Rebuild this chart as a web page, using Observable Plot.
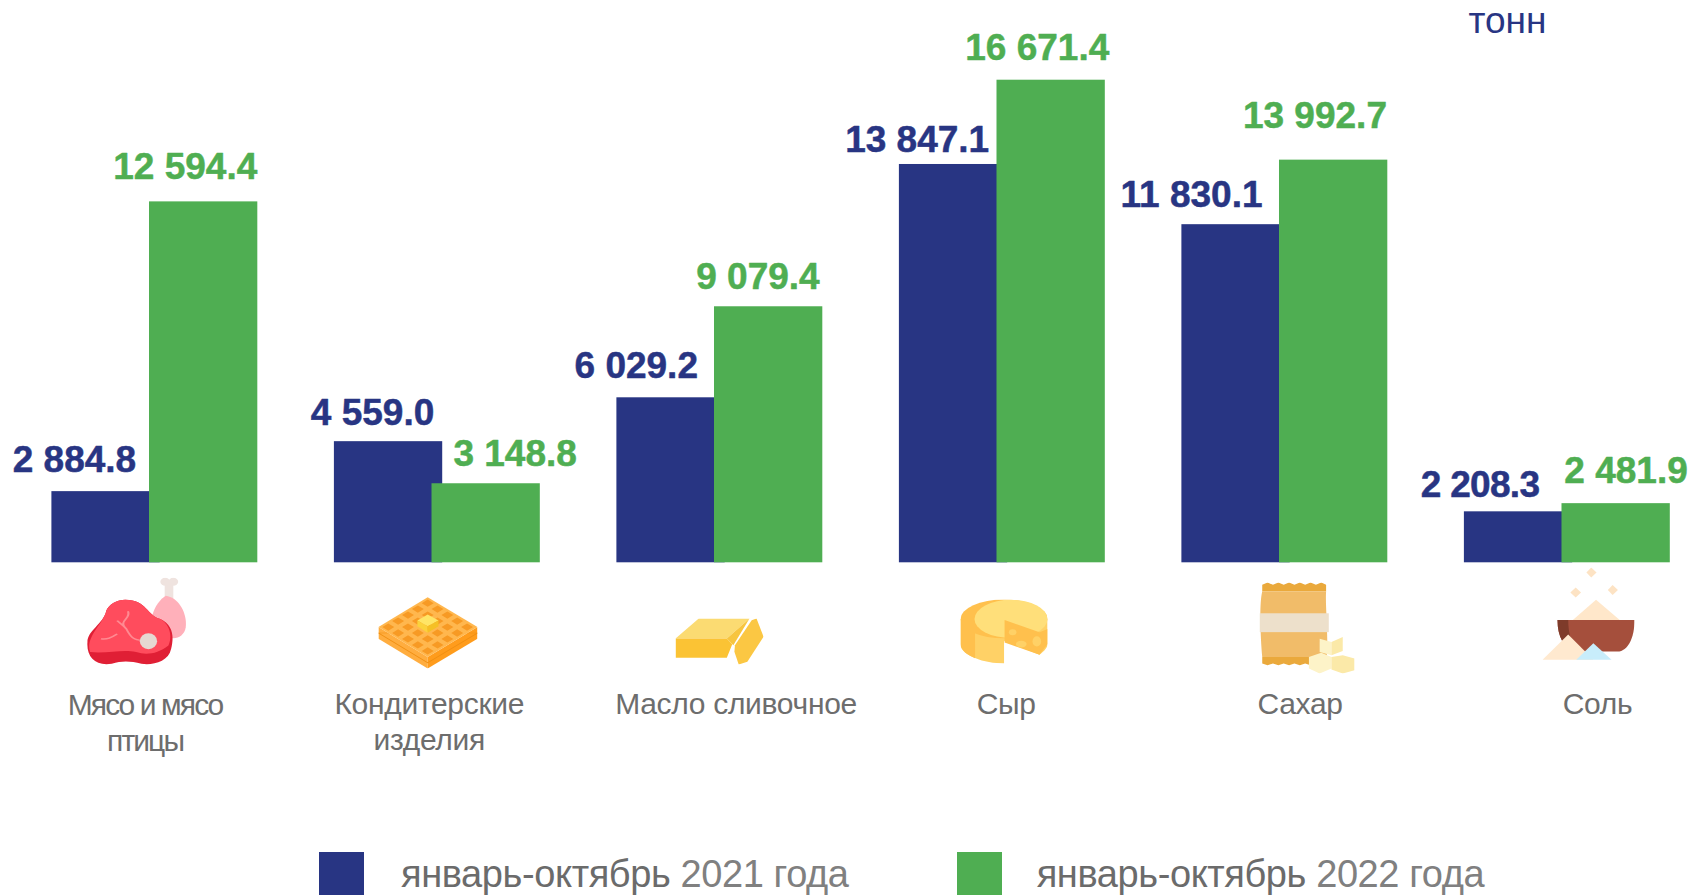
<!DOCTYPE html>
<html><head><meta charset="utf-8">
<script src="https://cdn.jsdelivr.net/npm/d3@7"></script>
<script src="https://cdn.jsdelivr.net/npm/@observablehq/plot@0.6"></script>
<style>
html,body{margin:0;padding:0;background:#fff;overflow:hidden;width:1691px;height:895px}
svg{display:block}
#legend{position:relative;height:50px;width:1691px;font:38px/36px "Liberation Sans",Arial,sans-serif;color:#6b6b6b;overflow:hidden}
#legend .sw{position:absolute;top:7px;width:45px;height:43px}
#legend .tx{position:absolute;top:11.2px;white-space:nowrap;letter-spacing:-.4px}
#legend .tx span{color:#808080}
</style></head><body>
<div id="chart"></div>
<div id="legend"></div>
<script>
const categories = ["Мясо и мясо птицы","Кондитерские изделия","Масло сливочное","Сыр","Сахар","Соль"];
const categoryLabels = ["Мясо и мясо\nптицы","Кондитерские\nизделия","Масло сливочное","Сыр","Сахар","Соль"];
const values2021 = [2884.8,4559.0,6029.2,13847.1,11830.1,2208.3];
const values2022 = [12594.4,3148.8,9079.4,16671.4,13992.7,2481.9];
const seriesNames = ["январь-октябрь 2021 года","январь-октябрь 2022 года"];
const unit = "тонн";

const BLUE="#283583", GREEN="#4fae52", GRAY="#6d6d6d";
const FONT='"Liberation Sans",Arial,sans-serif';

// layout offsets (px from bar band centre / bar top)
const blueDx=[-31.6,-16,-34.8,-36.4,-44.5,-38.5], blueDy=[-31.9,-29,-32.1,-24.4,-29.6,-26.6];
const greenDx=[-18.4,29,-10.7,-13.9,-18.7,9.9], greenDy=[-34.9,-29.1,-29.7,-31.8,-43.8,-32.5];
const blueSpacing=[0,0,0,0,0,-.7];
const labelDx=[39,40.7,65,52.6,64,79], labelDy=[126.2,125.2,125.2,125.2,125.2,125.2];
const labelSpacing=[-1.9,-.3,-.3,-.3,-.3,-.3];
const iconDx=[30.8,39.4,48.5,50.5,71,70], iconDy=[58.6,69.7,78.7,68.7,65.2,51.2];
const iconSize=[[101,88],[99,72],[88,46],[87,64],[95,91],[92,93]];
const GREEN_SHIFT=97.6, BASE=500;

const fmt=v=>{const [a,b]=v.toFixed(1).split(".");return a.replace(/\B(?=(\d{3})+$)/g," ")+"."+b;};
const spaced=ls=>(index,scales,values,dims,context,next)=>{
  const g=next(index,scales,values,dims,context);
  g.style.letterSpacing=ls+"px";
  return g;
};

function wafflePaths(){
  const cx=788,top=170,hw=91,hh=90;
  let s=`<polygon points="697,260 788,350 788,385 697,295" fill="#ffad3f"/><polygon points="880,260 788,350 788,385 880,295" fill="#ff9c1c"/>`;
  s+=`<polygon points="697,278 788,368 880,278" fill="none" stroke="#f08f12" stroke-width="2"/>`;
  s+=`<polygon points="788,170 880,260 788,350 697,260" fill="#ffb74e"/>`;
  const n=5;
  for(let i=0;i<n;i++)for(let j=0;j<n;j++){
    const u=(i+.5)/n,v=(j+.5)/n;
    const px=cx+(u-v)*hw, py=top+(u+v)*hh;
    s+=`<polygon points="${px},${py-11} ${px+11},${py} ${px},${py+11} ${px-11},${py}" fill="#f79a24"/>`;
  }
  s+=`<polygon points="788,222 808,240 788,258 769,240" fill="#ffe566"/><polygon points="769,240 788,258 788,277 769,258" fill="#fbd23c"/><polygon points="808,240 788,258 788,277 808,258" fill="#f5c025"/>`;
  return s;
}
const icons=[
 {vb:"158 110 187 265",art:`
  <rect x="303" y="125" width="16" height="50" fill="#efe3df"/><ellipse cx="304" cy="123" rx="9" ry="12" fill="#efe3df"/><ellipse cx="319" cy="123" rx="9" ry="12" fill="#efe3df"/>
  <path d="M305 165C330 170 345 220 342 260C340 285 325 297 315 292L280 225C285 195 295 175 305 165Z" fill="#ffb0ba"/>
  <path d="M230 177C270 177 270 225 295 235C320 255 320 290 315 325C310 365 280 375 260 370C240 362 225 360 205 370C175 378 158 350 160 305C160 270 190 250 195 210C200 190 215 177 230 177Z" fill="#e01f35"/>
  <path d="M230 177C270 177 270 225 295 235C312 250 318 285 310 315C290 340 270 345 250 335C225 325 200 340 165 335C155 290 190 250 195 210C200 190 215 177 230 177Z" fill="#ff4c5d"/>
  <path d="M235 212C242 235 215 240 232 265C240 290 245 298 262 300M215 240L228 258M185 295C198 298 205 290 215 280" fill="none" stroke="#ff8a92" stroke-width="4"/>
  <ellipse cx="273" cy="302" rx="16" ry="24" fill="#e6d8d2"/>`},
 {vb:"697 168 183 217",art:wafflePaths()},
 {vb:"1245 235 163 138",art:`
  <polygon points="1245,295 1288,235 1382,235 1340,295" fill="#fbdb72"/>
  <polygon points="1245,295 1340,295 1350,312 1340,353 1245,353" fill="#fbc334"/>
  <polygon points="1340,295 1382,235 1352,315" fill="#f7c53f"/>
  <polygon points="1386,240 1395,235 1408,290 1378,365 1362,373 1354,335 1355,315" fill="#fbc743"/>`},
 {vb:"205 177 162 191",art:`
  <path d="M205 235L205 310C205 345 250 368 286 368L286 300L352 342C362 330 367 320 367 310L367 235Z" fill="#ffd166"/>
  <path d="M205 235L205 310C205 330 220 345 232 352L232 240Z" fill="#ffc04d"/>
  <ellipse cx="286" cy="235" rx="81" ry="58" fill="#ffc04d"/>
  <ellipse cx="299" cy="235" rx="68" ry="57" fill="#ffdf7a"/>
  <polygon points="287,238 352,275 367,265 367,310 352,342 287,305" fill="#ffc04d"/>
  <ellipse cx="302" cy="275" rx="7" ry="9" fill="#ffd166"/><ellipse cx="318" cy="310" rx="10" ry="10" fill="#ffd166"/><ellipse cx="347" cy="302" rx="8" ry="15" fill="#ffd166"/>`},
 {vb:"763 125 177 275",art:`
  <polygon points="768,152 768,132 778,125 788,132 798,125 808,132 818,125 828,132 838,125 848,132 858,125 868,132 878,125 887,132 887,152" fill="#eaa93c"/>
  <path d="M768 152H887C885 190 892 300 888 350H768C765 300 762 190 768 152Z" fill="#f1bc69"/>
  <rect x="763" y="218" width="129" height="57" fill="#ede0cb"/>
  <polygon points="768,350 888,350 888,370 878,375 868,370 858,375 848,370 838,375 828,370 818,375 808,370 798,375 788,370 778,375 768,370" fill="#eaa93c"/>
  <polygon points="875,295 897,305 897,345 875,335" fill="#fdf3c8"/><polygon points="897,305 918,290 918,332 897,345" fill="#fbe9a8"/>
  <polygon points="855,350 878,337 897,350 897,385 875,400 855,385" fill="#fdf3c8"/><polygon points="897,350 918,345 940,355 940,390 918,400 897,388" fill="#fbe9a8"/>`},
 {vb:"1290 80 172 280",art:`
  <polygon points="1381,80 1391,95 1381,110 1372,95" fill="#fde3c4"/><polygon points="1352,140 1362,155 1352,170 1342,155" fill="#fde3c4"/><polygon points="1421,133 1431,148 1421,163 1412,148" fill="#fde3c4"/>
  <polygon points="1390,177 1345,240 1436,240" fill="#ffe7ca"/>
  <path d="M1318 238H1462C1462 290 1450 333 1430 333H1350C1330 320 1318 290 1318 238Z" fill="#a54f3c"/>
  <path d="M1318 238H1338C1338 280 1345 310 1352 333C1330 320 1318 290 1318 238Z" fill="#7e3b2a"/>
  <polygon points="1338,282 1290,358 1385,358" fill="#ffe9cf"/>
  <polygon points="1385,308 1353,358 1419,358" fill="#c8edfb"/>`}
];
const iconUri=(ic,[w,h])=>"data:image/svg+xml;charset=utf-8,"+encodeURIComponent(
 `<svg xmlns="http://www.w3.org/2000/svg" width="${w}" height="${h}" viewBox="${ic.vb}" preserveAspectRatio="none">${ic.art}</svg>`);

const rows=categories.map((c,i)=>({c,a:values2021[i],b:values2022[i]}));
const marks=[
  Plot.rect(rows,{x:"c",y1:()=>BASE,y2:"a",fill:BLUE}),
  Plot.rect(rows,{x:"c",y1:()=>BASE,y2:"b",fill:GREEN,dx:GREEN_SHIFT})
];
rows.forEach((r,i)=>{
  marks.push(Plot.text([r],{x:"c",y:"a",text:d=>fmt(d.a),fill:BLUE,stroke:BLUE,strokeWidth:.5,fontWeight:"bold",fontSize:37,dx:blueDx[i],dy:blueDy[i],render:spaced(blueSpacing[i])}));
  marks.push(Plot.text([r],{x:"c",y:"b",text:d=>fmt(d.b),fill:GREEN,stroke:GREEN,strokeWidth:.5,fontWeight:"bold",fontSize:37,dx:GREEN_SHIFT+greenDx[i],dy:greenDy[i]}));
  marks.push(Plot.image([r],{x:"c",y:()=>BASE,src:()=>iconUri(icons[i],iconSize[i]),width:iconSize[i][0],height:iconSize[i][1],dx:iconDx[i],dy:iconDy[i]}));
  marks.push(Plot.text([r],{x:"c",y:()=>BASE,text:()=>categoryLabels[i],fill:GRAY,fontSize:30,lineHeight:1.2,lineAnchor:"top",dx:labelDx[i],dy:labelDy[i],render:spaced(labelSpacing[i])}));
});
marks.push(Plot.text([unit],{frameAnchor:"top-left",text:d=>d,fill:BLUE,fontSize:37,dx:1468,dy:6.7}));

const chart=Plot.plot({
  width:1691,height:845,margin:0,
  style:{fontFamily:FONT,background:"#fff"},
  x:{type:"band",domain:categories,range:[51.4,1572.2],paddingInner:.6166,paddingOuter:0,round:false,axis:null},
  y:{domain:[500,17000],range:[562.3,69.9],axis:null},
  marks
});
document.getElementById("chart").append(chart);

const leg=document.getElementById("legend");
[[318.7,401,BLUE],[956.8,1036.7,GREEN]].forEach(([sx,tx,col],i)=>{
  const sw=document.createElement("div");sw.className="sw";sw.style.left=sx+"px";sw.style.background=col;leg.append(sw);
  const t=document.createElement("div");t.className="tx";t.style.left=tx+"px";
  const m=seriesNames[i].match(/^(\S+) (.*)$/);
  t.innerHTML=m[1]+" <span>"+m[2]+"</span>";leg.append(t);
});
</script>
</body></html>
